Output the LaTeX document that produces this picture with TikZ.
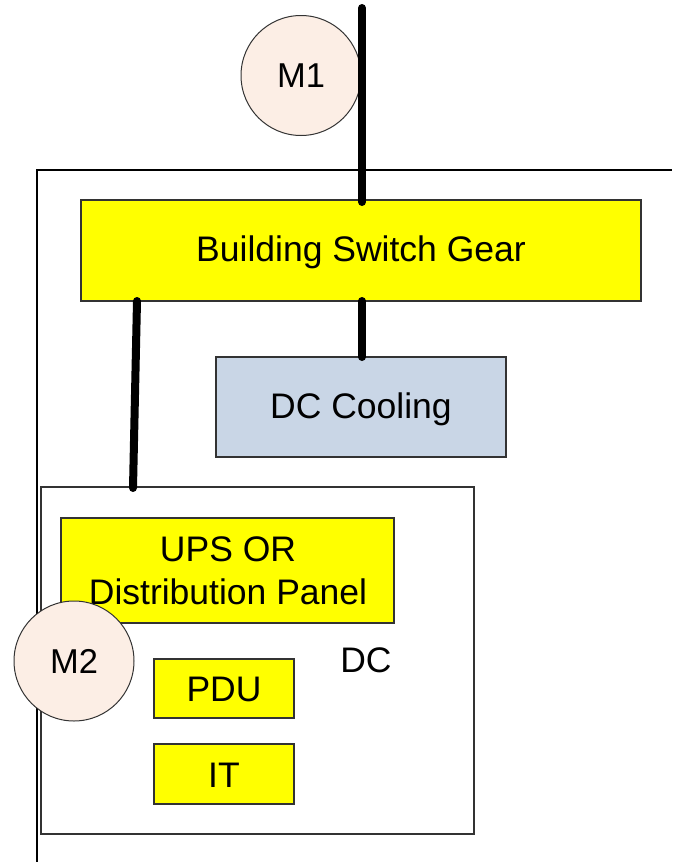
\documentclass[tikz,border=0pt]{standalone}
\usepackage{fontspec}
\setmainfont{Liberation Sans}
\definecolor{boxyellow}{HTML}{FFFF00}
\definecolor{coolblue}{HTML}{C9D6E6}
\definecolor{peach}{HTML}{FCEEE5}
\definecolor{edge}{HTML}{333333}
\begin{document}
\begin{tikzpicture}[x=1pt,y=-1pt,
  lbl/.style={font=\fontsize{35.5}{43}\selectfont, align=center, inner sep=0pt},
  ybox/.style={draw=edge, line width=1.2pt, fill=boxyellow},
  meter/.style={circle, draw=edge, line width=1pt, fill=peach, minimum size=120pt, inner sep=0pt, font=\fontsize{34.5}{40}\selectfont},
  feed/.style={line width=8pt, line cap=round},
  frame/.style={draw=black, line width=1.2pt}]
\useasboundingbox (0,0) rectangle (672,862);
% outer building frame
\draw[frame] (37,862) -- (37,170) -- (672,170);
% DC room
\draw[draw=edge, line width=1.2pt] (41,487) rectangle (474,834);
\node[lbl] (dclbl) at (366,660) {DC};
% boxes
\draw[ybox] (81,200) rectangle (641,301);
\node[lbl] (bsg) at (361,252) {Building Switch Gear};
\coordinate (bsgtop) at (362,202);
\coordinate (bsgbotA) at (137,301);
\coordinate (bsgbotB) at (362,301);
\draw[draw=edge, line width=1.2pt, fill=coolblue] (216,357) rectangle (506,457);
\node[lbl] (cool) at (361,409) {DC Cooling};
\coordinate (cooltop) at (362,357);
\draw[ybox] (61,518) rectangle (394,623);
\node[lbl] (ups) at (228,571) {UPS OR\\Distribution Panel};
\draw[ybox] (154,659) rectangle (294,718);
\node[lbl] (pdu) at (224,689.5) {PDU};
\draw[ybox] (154,744) rectangle (294,804);
\node[lbl] (it) at (224,775) {IT};
\coordinate (dctop) at (133,488);
% meters
\node[meter] (m1) at (301,75.5) {M1};
\node[meter] (m2) at (74,661) {M2};
% feeders
\coordinate (utility) at (362,8);
\draw[feed] (utility) -- (bsgtop);
\draw[feed] (bsgbotB) -- (cooltop);
\draw[feed] (bsgbotA) -- (dctop);
\end{tikzpicture}
\end{document}
